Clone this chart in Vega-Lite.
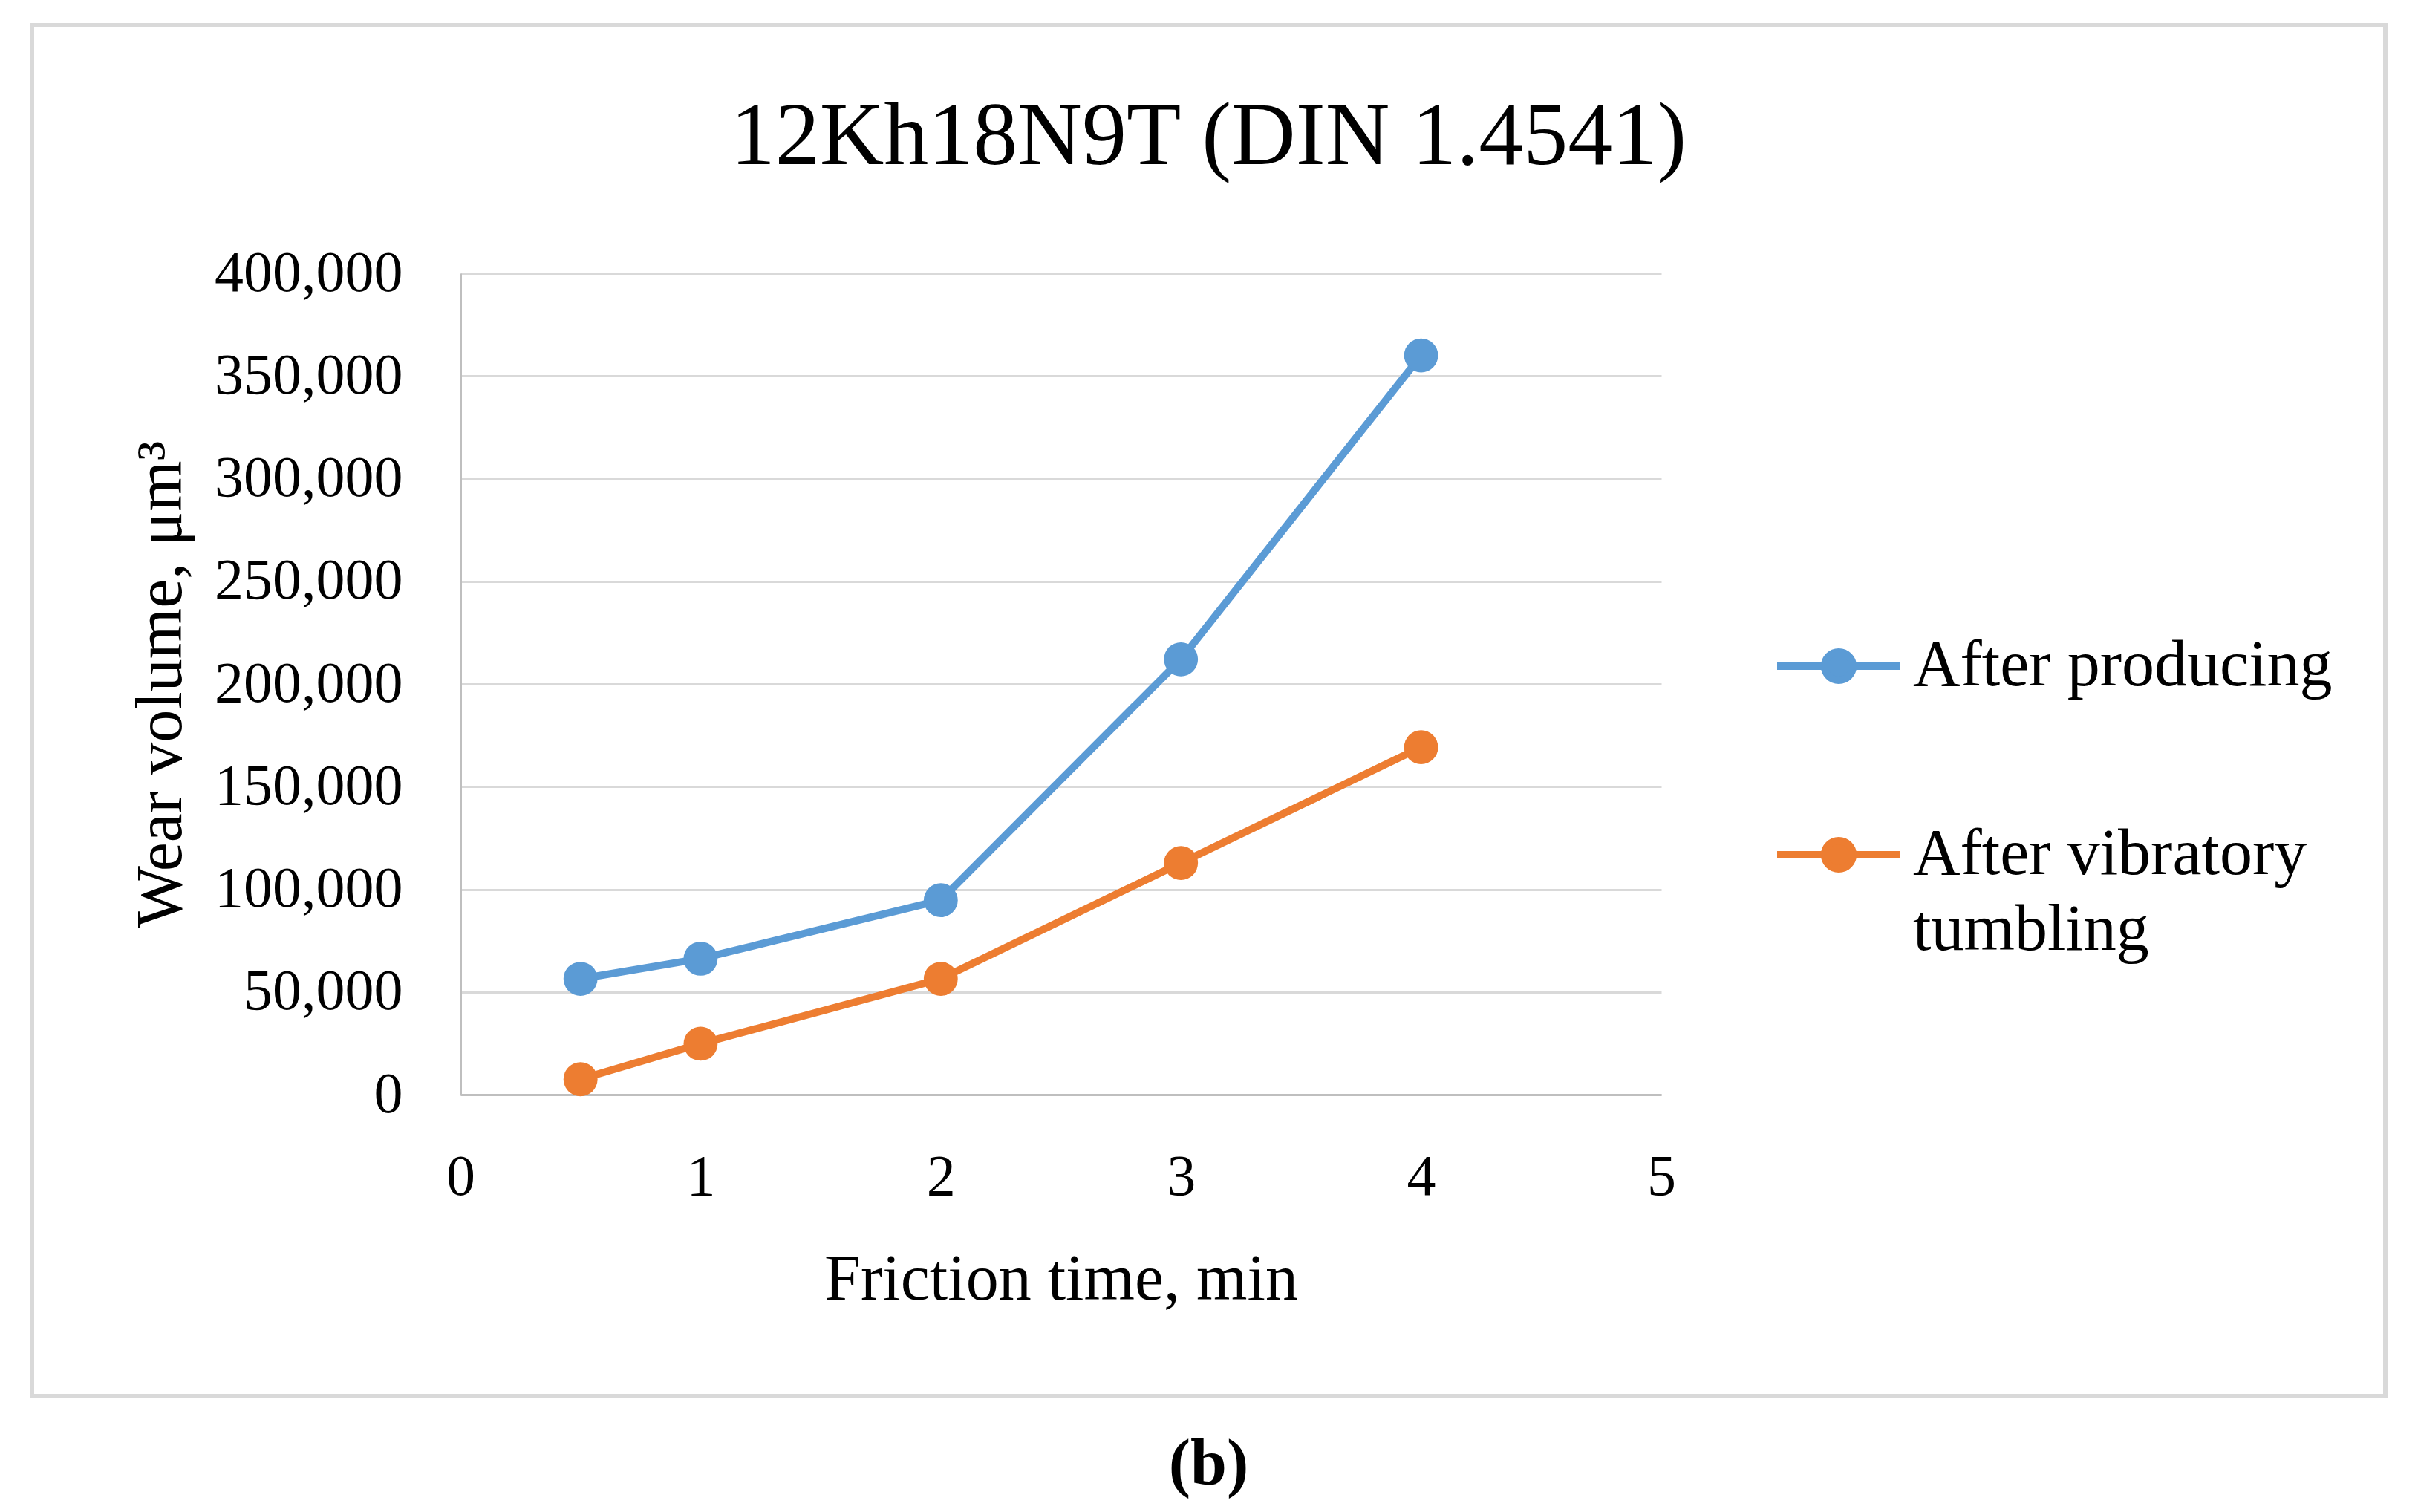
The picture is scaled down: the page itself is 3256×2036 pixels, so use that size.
{
  "$schema": "https://vega.github.io/schema/vega-lite/v6.json",
  "autosize": "none",
  "width": 3169,
  "height": 1846,
  "padding": {"left": 43, "top": 34, "right": 44, "bottom": 156},
  "background": "white",
  "config": {
    "view": {"stroke": "#d9d9d9", "strokeWidth": 6},
    "font": "Liberation Serif",
    "axis": {"labelFont": "Liberation Serif", "titleFont": "Liberation Serif", "labelColor": "#000000", "titleColor": "#000000", "titleFontWeight": "normal", "labelLimit": 2000, "labelFlush": false, "labelOverlap": false},
    "legend": {"labelFont": "Liberation Serif", "labelColor": "#000000"}
  },
  "title": {
    "text": "12Kh18N9T (DIN 1.4541)",
    "font": "Liberation Serif",
    "fontSize": 120,
    "fontWeight": "normal",
    "color": "#000000",
    "anchor": "middle",
    "baseline": "alphabetic",
    "offset": -307
  },
  "data": {
    "values": [
      {"t": 0.5, "v": 56400, "s": "After producing"},
      {"t": 1, "v": 66200, "s": "After producing"},
      {"t": 2, "v": 94700, "s": "After producing"},
      {"t": 3, "v": 212000, "s": "After producing"},
      {"t": 4, "v": 360000, "s": "After producing"},
      {"t": 0.5, "v": 7500, "s": "After vibratory tumbling"},
      {"t": 1, "v": 24800, "s": "After vibratory tumbling"},
      {"t": 2, "v": 56400, "s": "After vibratory tumbling"},
      {"t": 3, "v": 112800, "s": "After vibratory tumbling"},
      {"t": 4, "v": 169200, "s": "After vibratory tumbling"}
    ]
  },
  "encoding": {
    "y": {
      "field": "v",
      "type": "quantitative",
      "scale": {"domain": [0, 400000], "range": [1440, 334], "nice": false},
      "axis": {
        "orient": "left",
        "offset": -577,
        "title": "Wear volume, μm³",
        "titleFontSize": 88,
        "titleAngle": -90,
        "titleBaseline": "alphabetic",
        "titleAlign": "center",
        "titleX": -377,
        "labelFontSize": 78,
        "labelPadding": 78,
        "ticks": false,
        "domainColor": "#bfbfbf",
        "domainWidth": 3,
        "grid": true,
        "gridColor": "#d9d9d9",
        "gridWidth": 3,
        "values": [0, 50000, 100000, 150000, 200000, 250000, 300000, 350000, 400000],
        "format": ",d"
      }
    },
    "color": {
      "field": "s",
      "type": "nominal",
      "scale": {"domain": ["After producing", "After vibratory tumbling"], "range": ["#5b9bd5", "#ed7d31"]},
      "legend": {
        "orient": "none",
        "legendX": 2345,
        "legendY": 775,
        "title": null,
        "padding": 0,
        "labelFontSize": 88,
        "labelLimit": 2000,
        "labelOffset": 12,
        "rowPadding": 122,
        "symbolType": "M-1,0H1M-0.23,0A0.23,0.23,0,1,0,0.23,0A0.23,0.23,0,1,0,-0.23,0Z",
        "symbolSize": 27556,
        "symbolStrokeWidth": 10,
        "labelExpr": "datum.value === 'After vibratory tumbling' ? ['After vibratory', 'tumbling'] : datum.label",
        "encode": {
          "symbols": {"update": {"fill": {"scale": "color", "field": "value"}, "stroke": {"scale": "color", "field": "value"}, "opacity": {"value": 1}}},
          "labels": {"update": {"lineHeight": {"value": 102}}}
        }
      }
    }
  },
  "layer": [
    {
      "mark": {"type": "line", "strokeWidth": 10},
      "encoding": {
        "x": {
          "field": "t",
          "type": "quantitative",
          "scale": {"domain": [0, 5], "range": [577, 2194], "nice": false, "zero": false},
          "axis": {
            "orient": "bottom",
            "offset": -406,
            "title": "Friction time, min",
            "titleFontSize": 88,
            "titleBaseline": "alphabetic",
            "titleY": 275,
            "labelFontSize": 78,
            "labelPadding": 72,
            "ticks": false,
            "grid": false,
            "domainColor": "#bfbfbf",
            "domainWidth": 3,
            "values": [0, 1, 2, 3, 4, 5],
            "format": "d"
          }
        }
      }
    },
    {
      "mark": {"type": "point", "filled": true, "shape": "circle", "size": 2100, "opacity": 1},
      "encoding": {
        "x": {
          "field": "t",
          "type": "quantitative",
          "axis": {
            "orient": "bottom",
            "offset": 0,
            "title": "(b)",
            "titleFontSize": 88,
            "titleFontWeight": "bold",
            "titleBaseline": "alphabetic",
            "titleAlign": "center",
            "titleX": 1584,
            "titleY": 118,
            "labels": false,
            "ticks": false,
            "domain": false,
            "grid": false
          }
        }
      }
    }
  ],
  "resolve": {"axis": {"x": "independent"}}
}
